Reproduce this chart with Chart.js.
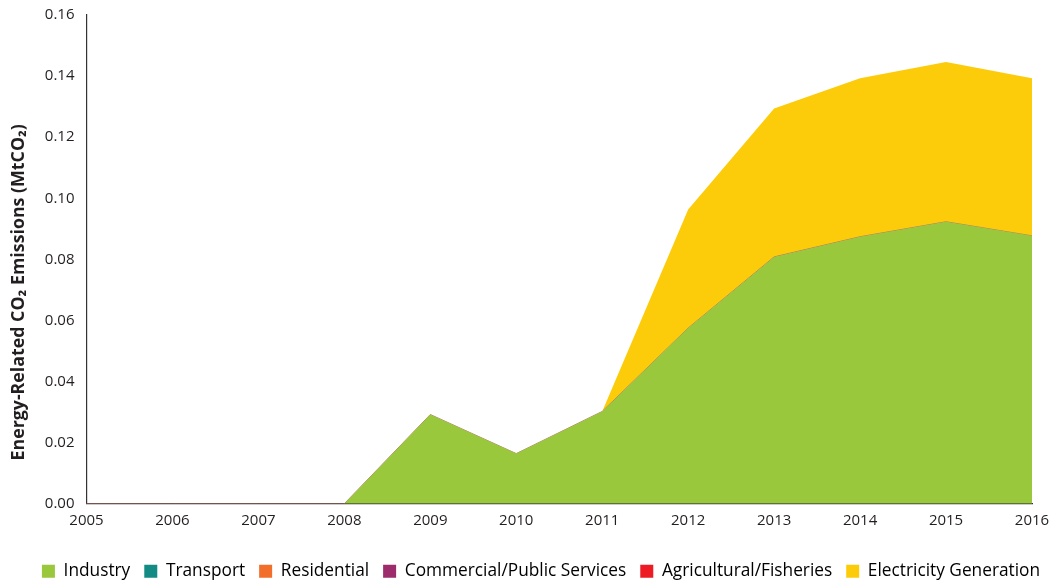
<!DOCTYPE html>
<html>
<head>
<meta charset="utf-8">
<script src="https://cdn.jsdelivr.net/npm/chart.js@4/dist/chart.umd.min.js"></script>
<style>
html,body{margin:0;padding:0;background:#fff;}
#wrap{width:1056px;height:584px;position:relative;}
</style>
</head>
<body>
<div id="wrap"><canvas id="c" width="1056" height="584"></canvas></div>
<script>
const years = ['2005','2006','2007','2008','2009','2010','2011','2012','2013','2014','2015','2016'];
const industry = [0,0,0,0,0.0292,0.0164,0.0302,0.0575,0.0808,0.0874,0.0923,0.0877];
const transport = [0,0,0,0,0,0,0,0,0,0,0,0];
const residential = [0,0,0,0,0,0,0,0,0,0,0,0];
const commercial = [0,0,0,0,0,0,0,0,0,0,0,0];
const agricultural = [0,0,0,0,0,0,0,0,0,0,0,0];
const electricity = [0,0,0,0,0,0,0,0.0388,0.0486,0.0519,0.0523,0.0516];
const yTicks = [0,0.02,0.04,0.06,0.08,0.10,0.12,0.14,0.16];
const yTitle = 'Energy-Related CO₂ Emissions (MtCO₂)';

function ds(label, data, color, border, bw, fill){
  return {label, data, backgroundColor: color, borderColor: border, borderWidth: bw,
    fill: fill, pointRadius: 0, tension: 0};
}
const FONT = "'Open Sans', sans-serif";
const shiftLegend = {
  id: 'shiftLegend',
  afterLayout(chart){
    const l = chart.legend;
    l.left += 13; l.right += 13; l.top += 6; l.bottom += 6;
  }
};
const yTitlePlugin = {
  id: 'yTitlePlugin',
  afterDraw(chart){
    const ctx = chart.ctx, a = chart.chartArea;
    ctx.save();
    ctx.translate(19, (a.top + a.bottom) / 2 + 33);
    ctx.rotate(-Math.PI / 2);
    ctx.font = "bold 17.8px 'Open Sans', sans-serif";
    ctx.fillStyle = '#231f20';
    ctx.textAlign = 'center';
    ctx.textBaseline = 'middle';
    ctx.fillText(yTitle, 0, 0);
    ctx.restore();
  }
};
new Chart(document.getElementById('c'), {
  type: 'line',
  plugins: [shiftLegend, yTitlePlugin],
  data: {
    labels: years,
    datasets: [
      ds('Industry', industry, '#99c83c', '#99c83c', 0, 'origin'),
      ds('Transport', transport, '#138a83', 'rgba(0,0,0,0)', 0, '-1'),
      ds('Residential', residential, '#f26f2b', 'rgba(0,0,0,0)', 0, '-1'),
      ds('Commercial/Public Services', commercial, '#9c2c6b', 'rgba(176,110,100,0.9)', 1, '-1'),
      ds('Agricultural/Fisheries', agricultural, '#ed1c24', 'rgba(0,0,0,0)', 0, '-1'),
      ds('Electricity Generation', electricity, '#fccc0a', 'rgba(0,0,0,0)', 0, '-1')
    ]
  },
  options: {
    responsive: false,
    animation: false,
    layout: {padding: {top: 15, right: 0, left: 0, bottom: 0}},
    plugins: {
      legend: {
        position: 'bottom',
        labels: {
          boxWidth: 13, boxHeight: 13, padding: 14,
          color: '#231f20',
          font: {family: FONT, size: 17.3},
          generateLabels(chart){
            return chart.data.datasets.map((d,i)=>({
              text: d.label, fillStyle: d.backgroundColor, strokeStyle: d.backgroundColor,
              lineWidth: 0, hidden: false, datasetIndex: i
            }));
          }
        }
      },
      tooltip: {enabled: false}
    },
    scales: {
      x: {
        type: 'category',
        offset: false,
        afterFit(s){ s.height += 12; s.paddingRight = 24; },
        grid: {display: false, drawTicks: true, tickLength: 7, tickColor: '#333'},
        border: {color: '#333', width: 1.2},
        ticks: {color: '#231f20', font: {family: FONT, size: 15}, padding: 1, maxRotation: 0, autoSkip: false}
      },
      y: {
        stacked: true,
        min: 0, max: 0.16,
        afterBuildTicks(axis){ axis.ticks = yTicks.map(v=>({value:v})); },
        afterFit(s){ s.width += 3; },
        grid: {display: false, drawTicks: true, tickLength: 7, tickColor: '#333'},
        border: {color: '#333', width: 1.2},
        ticks: {color: '#231f20', font: {family: FONT, size: 15}, padding: 5,
          callback: v => Number(v).toFixed(2)},
        title: {display: true, text: yTitle, color: 'rgba(0,0,0,0)',
          font: {family: FONT, size: 16.5, weight: 'bold'}, padding: {top: 9, bottom: 8}}
      }
    }
  }
});
</script>
</body>
</html>
